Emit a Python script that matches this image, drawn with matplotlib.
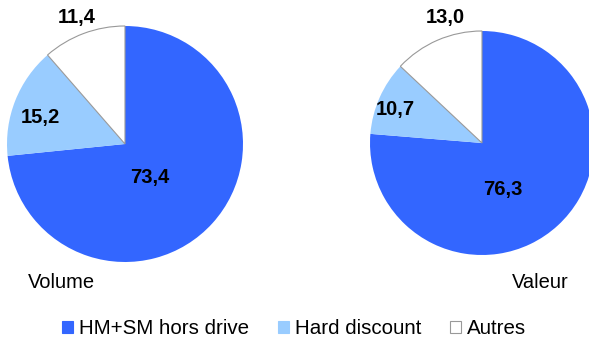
import matplotlib
matplotlib.use("Agg")
import matplotlib.pyplot as plt
from matplotlib.patches import Patch

plt.rcParams['font.family'] = ['Liberation Sans', 'DejaVu Sans']

categories = ["HM+SM hors drive", "Hard discount", "Autres"]
volume = [73.4, 15.2, 11.4]
valeur = [76.3, 10.7, 13.0]
titles = ["Volume", "Valeur"]
colors = ["#3366FF", "#99CCFF", "#FFFFFF"]

W, H = 589, 339
fig = plt.figure(figsize=(W / 100, H / 100), dpi=100)
ax = fig.add_axes([0, 0, 1, 1])
ax.set_xlim(0, W)
ax.set_ylim(0, H)
ax.set_aspect('equal')
ax.axis('off')

pies = [
    dict(data=volume, center=(125, 195), radius=118,
         lab=[(150, 162), (40, 222), (77, 321)], title_xy=(28, 57), title=titles[0]),
    dict(data=valeur, center=(482, 196), radius=112,
         lab=[(503, 149), (395, 229), (445, 321)], title_xy=(512, 56), title=titles[1]),
]

def fmt(v):
    return f"{v:.1f}".replace('.', ',')

for p in pies:
    wedges, _ = ax.pie(p['data'], colors=colors, startangle=90, counterclock=False,
                       center=p['center'], radius=p['radius'], frame=True,
                       wedgeprops=dict(linewidth=0))
    w = wedges[2]
    w.set_edgecolor('#999999')
    w.set_linewidth(0.8)
    for v, (x, y) in zip(p['data'], p['lab']):
        ax.text(x, y, fmt(v), ha='center', va='center', fontsize=14.5,
                fontweight='bold', color='black')
    ax.text(p['title_xy'][0], p['title_xy'][1], p['title'], ha='left', va='center',
            fontsize=14.5, color='black')

ax.set_xlim(0, W)
ax.set_ylim(0, H)
ax.axis('off')

handles = [Patch(facecolor=c, edgecolor=('#999999' if c == '#FFFFFF' else c), linewidth=0.8)
           for c in colors]
fig.legend(handles, categories, loc='center', bbox_to_anchor=(294 / W, 10 / H),
           ncol=3, frameon=False, fontsize=14.8, handlelength=0.55, handleheight=0.55,
           handletextpad=0.28, columnspacing=1.4, borderaxespad=0, borderpad=0)

fig.savefig('out.png', dpi=100)
